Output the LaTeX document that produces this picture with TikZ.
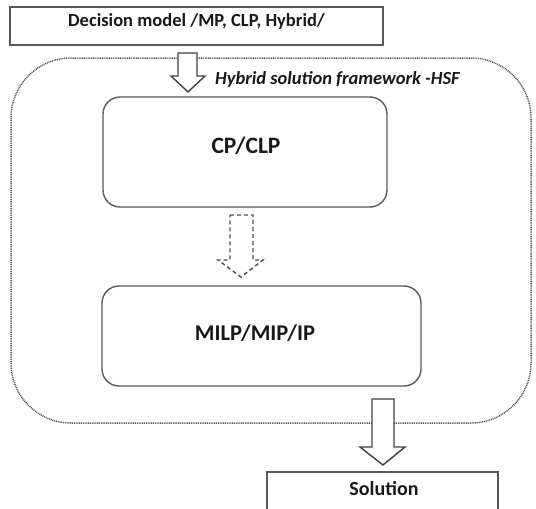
\documentclass[tikz,border=0pt]{standalone}
\usepackage{fontspec}
\setmainfont{Carlito}
\begin{document}
\begin{tikzpicture}[x=1pt,y=-1pt,
  boxline/.style={draw=black!65,line width=1.4pt},
  rbox/.style={boxline,rounded corners=17pt},
  blockarrow/.style={draw=black!75,line width=1.4pt,fill=white,line join=miter},
  dasharrow/.style={draw=black!70,line width=1.4pt,dash pattern=on 4pt off 3pt,fill=white},
  region/.style={draw=black!65,line width=1.5pt,dash pattern=on 1pt off 0.8pt,rounded corners=60pt},
  toptext/.style={font=\fontsize{18.5}{22}\selectfont\bfseries,text=black!90,inner sep=0pt},
  soltext/.style={font=\fontsize{20}{24}\selectfont\bfseries,text=black!90,inner sep=0pt},
  cptext/.style={font=\fontsize{23.5}{27}\selectfont\bfseries,text=black!90,inner sep=0pt},
  milptext/.style={font=\fontsize{22.5}{26}\selectfont\bfseries,text=black!90,inner sep=0pt},
  hsftext/.style={font=\fontsize{18.5}{22}\selectfont\bfseries\itshape,text=black!90,inner sep=0pt,anchor=base west}]
\useasboundingbox (0,0) rectangle (536,509);
\begin{scope}
\clip (0,0) rectangle (536,509);
% region
\draw[region] (11,58) rectangle (531,423);
% top box
\draw[boxline] (10,7) rectangle (383,45);
\node[toptext] (top) at (196.5,21) {Decision model /MP, CLP, Hybrid/};
% CP box
\draw[rbox] (103,97) rectangle (387,207);
\node[cptext] (cp) at (246,146) {CP/CLP};
% MILP box
\draw[rbox] (102,286) rectangle (421,386);
\node[milptext] (milp) at (255,333) {MILP/MIP/IP};
% HSF label
\node[hsftext] (hsf) at (215,84) {Hybrid solution framework -HSF};
% arrow 1
\draw[blockarrow] (178,53) -- (197,53) -- (197,76) -- (205,76) -- (188,92) -- (171,76) -- (178,76) -- cycle;
% arrow 2 dashed
\draw[dasharrow] (230,215) -- (253,215) -- (253,260) -- (263,260) -- (241,277) -- (218,260) -- (230,260) -- cycle;
% arrow 3
\draw[blockarrow] (372,399) -- (394,399) -- (394,447) -- (405,447) -- (383,465) -- (360,447) -- (372,447) -- cycle;
% solution box
\draw[boxline] (267,472) rectangle (498,520);
\node[soltext] (sol) at (384,489) {Solution};
\end{scope}
\end{tikzpicture}
\end{document}
